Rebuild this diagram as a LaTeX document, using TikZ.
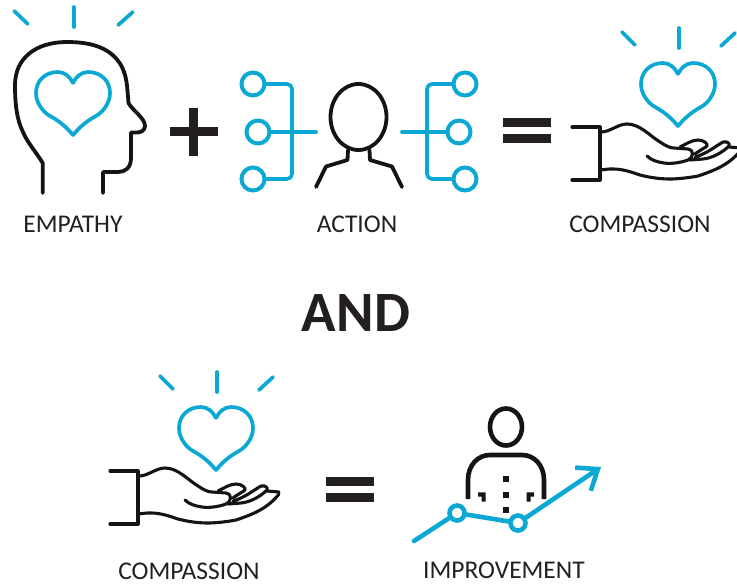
\documentclass[tikz,border=0pt]{standalone}
\usepackage{fontspec}
\setmainfont{Carlito}
\usetikzlibrary{arrows.meta}
\definecolor{iconblue}{HTML}{0AA8D2}
\definecolor{iconblack}{HTML}{141414}
\definecolor{signblack}{HTML}{231F20}
\tikzset{
  blueline/.style={draw=iconblue,line width=3.7pt,line cap=round,line join=round},
  chartline/.style={draw=iconblue,line width=4.6pt,line cap=round,line join=round},
  blackline/.style={draw=iconblack,line width=3.8pt,line cap=round,line join=round},
  personline/.style={draw=iconblack,line width=4.6pt},
  handline/.style={draw=iconblack,line width=3.1pt,line cap=round,line join=round},
  bluedot/.style={circle,draw=iconblue,fill=white,line width=4pt,inner sep=0pt,minimum size=23pt},
  chartdot/.style={circle,draw=iconblue,fill=white,line width=4.6pt,inner sep=0pt,minimum size=15pt},
  label/.style={text=signblack,font=\fontsize{25.5}{28}\selectfont,inner sep=0pt},
  rays/.pic={
    \draw [blueline] (-56,-42) -- (-43,-29);
    \draw [blueline] (1,-46) -- (1,-26);
    \draw [blueline] (57,-41) -- (43,-28);
  },
  heart/.pic={
    \draw [blueline,miter limit=10] (0,0) .. controls (-3,-6) and (-8,-11) .. (-15,-11)
      .. controls (-28,-11) and (-37,-2) .. (-37,10)
      .. controls (-37,20) and (-30,29) .. (-23,33)
      .. controls (-12,39) and (-6,45) .. (0,52)
      .. controls (6,45) and (12,39) .. (23,33)
      .. controls (30,29) and (37,20) .. (37,10)
      .. controls (37,-2) and (28,-11) .. (15,-11)
      .. controls (8,-11) and (3,-6) .. (0,0);
  },
  hand/.pic={
    \pic at (0,0) {rays};
    \pic at (0,0) {heart};
    \draw [handline] (-106,53) -- (-78,53) -- (-78,106) -- (-106,106);
    \draw [handline] (-77,58) .. controls (-68,58) and (-60,50) .. (-51,50)
      .. controls (-38,50) and (-28,62) .. (-18,68)
      .. controls (-12,72) and (-8,74) .. (-4,74) -- (10,75)
      .. controls (16,75) and (16,84) .. (10,86)
      .. controls (2,89) and (-8,90) .. (-14,89)
      .. controls (-21,88) and (-27,86) .. (-31,82);
    \draw [handline] (2,73) .. controls (8,70) and (14,66) .. (20,66)
      .. controls (26,66) and (30,70) .. (29,72)
      .. controls (27,74) and (22,76) .. (17,80);
    \draw [handline] (17,83) .. controls (28,80) and (38,72) .. (45,68)
      .. controls (50,67) and (52,70) .. (51,72)
      .. controls (45,78) and (35,84) .. (25,85) -- (12,86);
    \draw [handline] (51,73) -- (63,74);
    \draw [handline] (63,76) .. controls (52,90) and (38,96) .. (20,102)
      .. controls (10,104) and (-2,105) .. (-8,105)
      .. controls (-20,105) and (-30,103) .. (-38,101)
      .. controls (-50,97) and (-60,93) .. (-77,96);
  },
  equalsign/.pic={
    \fill [signblack] (0,0) rectangle (48,9);
    \fill [signblack] (0,16) rectangle (48,25);
  }
}

\begin{document}
\begin{tikzpicture}[x=1pt,y=-1pt]
    \useasboundingbox (0,0) rectangle (737,584);

    % empathy
    \pic [xscale=1.05] at (73,53) {rays};
    \pic at (73,83) {heart};
    \draw [blackline] (42.7,193) -- (42.7,163) .. controls (36,152) and (27,142) .. (23,132)
      .. controls (17,120) and (15,105) .. (15,85)
      .. controls (15,58) and (36,42) .. (67,42)
      .. controls (92,42) and (112,48) .. (122,67)
      .. controls (127,78) and (127,85) .. (128.5,103)
      .. controls (132,110) and (145,118) .. (145,126)
      .. controls (145,131) and (140,132.5) .. (137,132.5) -- (131,132.5) -- (131,158)
      .. controls (131,168) and (125,172) .. (118,172) -- (103,172) -- (103,193);
    \node [label] (empathy) at (73,224) {EMPATHY};

    % plus
    \fill [signblack] (170,127) rectangle (218,136);
    \fill [signblack] (189,108) rectangle (198,156);

    % action
    \node [bluedot] (lefta) at (253,84) {};
    \node [bluedot] (leftb) at (258,132) {};
    \node [bluedot] (leftc) at (253,179) {};
    \node [bluedot] (righta) at (465,84) {};
    \node [bluedot] (rightb) at (459,132) {};
    \node [bluedot] (rightc) at (465,179) {};
    \coordinate (leftjoin) at (292,132);
    \coordinate (rightjoin) at (427,132);
    \coordinate (leftend) at (316,132);
    \coordinate (rightend) at (402,132);
    \draw [blueline,rounded corners=5pt] (lefta) -| (leftjoin) |- (leftc);
    \draw [blueline,rounded corners=5pt] (righta) -| (rightjoin) |- (rightc);
    \draw [blueline] (leftb) -- (leftend);
    \draw [blueline] (rightb) -- (rightend);
    \draw [blackline] (358.5,117) ellipse (28 and 33);
    \draw [blackline] (348,150) -- (347.5,160) -- (326,166.5) -- (316,187);
    \draw [blackline] (369.5,150) -- (370,160) -- (392,166.5) -- (402,187);
    \node [label] (action) at (357,224) {ACTION};

    % first result
    \pic at (503,118) {equalsign};
    \pic at (678,74) {hand};
    \node [label] (compassion) at (640,224) {COMPASSION};

    \node [text=signblack,font=\fontsize{57}{60}\selectfont\bfseries,inner sep=0pt] (and) at (356,313) {AND};

    % second result
    \pic at (216,418) {hand};
    \pic at (326,477) {equalsign};
    \node [label] (compassiontwo) at (189,571.5) {COMPASSION};

    % improvement
    \draw [personline] (506,427) ellipse (16 and 18.5);
    \draw [personline] (468,499) -- (468,480) .. controls (468,465) and (478,455) .. (490,455)
      -- (522,455) .. controls (534,455) and (544,465) .. (544,480) -- (544,499);
    \fill [iconblack] (503,476) rectangle (509,482);
    \fill [iconblack] (503,492) rectangle (509,498);
    \fill [iconblack] (503,507) rectangle (509,513);
    \fill [iconblack] (478,492.3) -- (485.7,492.3) -- (485.7,501.7) -- (481.7,501.7) -- (481.7,496.7) -- (478,496.7) -- cycle;
    \fill [iconblack] (534,492.3) -- (526.7,492.3) -- (526.7,501.7) -- (530.7,501.7) -- (530.7,496.7) -- (534,496.7) -- cycle;
    \coordinate (chartstart) at (414,541);
    \coordinate (chartend) at (601,467);
    \node [chartdot] (charta) at (457,513) {};
    \node [chartdot] (chartb) at (518,523) {};
    \draw [chartline] (chartstart) -- (charta);
    \draw [chartline] (charta) -- (chartb);
    \draw [chartline,-{Straight Barb[length=18pt,width=28pt,line width=4.6pt]}] (chartb) -- (chartend);
    \node [label] (improvement) at (504,570) {IMPROVEMENT};
  \end{tikzpicture}
\end{document}
